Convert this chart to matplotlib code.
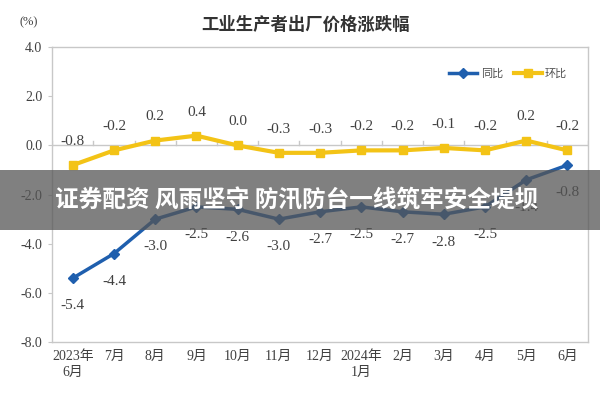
import numpy as np
import matplotlib
matplotlib.use('Agg')
import matplotlib.pyplot as plt
from matplotlib.patches import Rectangle

plt.rcParams['font.family'] = ['Liberation Serif', 'Noto Sans CJK SC', 'DejaVu Sans']

months = ['2023年\n6月', '7月', '8月', '9月', '10月', '11月', '12月',
          '2024年\n1月', '2月', '3月', '4月', '5月', '6月']
yoy = [-5.4, -4.4, -3.0, -2.5, -2.6, -3.0, -2.7, -2.5, -2.7, -2.8, -2.5, -1.4, -0.8]
mom = [-0.8, -0.2, 0.2, 0.4, 0.0, -0.3, -0.3, -0.2, -0.2, -0.1, -0.2, 0.2, -0.2]
yticks = [4.0, 2.0, 0.0, -2.0, -4.0, -6.0, -8.0]

blue = '#1f5fae'
yellow = '#f3c316'
grey = '#c8c8c8'

fig = plt.figure(figsize=(6, 4), dpi=100)
ax = fig.add_axes([0.087, 0.145, 0.893, 0.737])
x = np.arange(len(months))

ax.plot(x, yoy, color=blue, lw=2.5, marker='D', ms=5, label='同比', zorder=3)
ax.plot(x, mom, color=yellow, lw=3, marker='s', ms=6, label='环比', zorder=3)

for i, v in enumerate(yoy):
    ax.annotate('%.1f' % v, (i, v), xytext=(0, -20), textcoords='offset points',
                ha='center', va='center', fontsize=11, color='#404040')
for i, v in enumerate(mom):
    ax.annotate('%.1f' % v, (i, v), xytext=(0, 17), textcoords='offset points',
                ha='center', va='center', fontsize=11, color='#404040')

# category axis crossing at zero
ax.axhline(0, color=grey, lw=1, zorder=1)
for b in np.arange(len(months) + 1) - 0.5:
    ax.plot([b, b], [0, 0.2], color=grey, lw=1, zorder=1)

ax.set_xlim(-0.5, len(months) - 0.5)
ax.set_ylim(-8, 4)
ax.set_yticks(yticks)
ax.set_yticklabels(['%.1f' % t for t in yticks], fontsize=10, color='#404040')
ax.set_xticks(x)
ax.set_xticklabels(months, fontsize=10, color='#404040', linespacing=1.3)
ax.tick_params(axis='x', length=0, pad=6)
ax.tick_params(axis='y', length=3, color=grey, pad=4)
for s in ax.spines.values():
    s.set_color(grey)
    s.set_linewidth(1)

leg = ax.legend(loc='upper right', bbox_to_anchor=(0.98, 0.96), ncol=2, frameon=False,
                fontsize=8, handlelength=2.5, columnspacing=1.0, handletextpad=0.3)
for t in leg.get_texts():
    t.set_color('#505050')

fig.text(0.51, 0.937, '工业生产者出厂价格涨跌幅', ha='center', va='center',
         fontsize=12.5, fontweight='bold', color='#333333', family=['Noto Sans CJK SC'])
fig.text(0.047, 0.945, '(%)', ha='center', va='center', fontsize=9, color='#404040')

# overlay banner
fig.patches.append(Rectangle((0, 0.425), 1, 0.15, transform=fig.transFigure,
                             facecolor='#555555', alpha=0.75, edgecolor='none', zorder=5))
fig.text(0.495, 0.5, '证券配资 风雨坚守 防汛防台一线筑牢安全堤坝', ha='center', va='center',
         fontsize=17, fontweight='bold', color='white', family=['Noto Sans CJK SC'], zorder=6)

fig.savefig('out.png', dpi=100)
